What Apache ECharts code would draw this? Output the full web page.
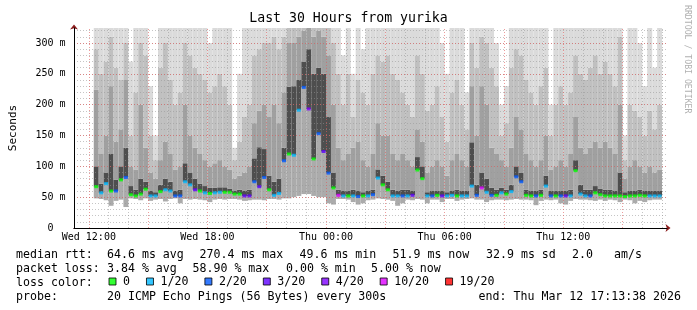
<!DOCTYPE html>
<html><head><meta charset="utf-8">
<script src="https://cdn.jsdelivr.net/npm/echarts@6/dist/echarts.min.js"></script>
<style>html,body{margin:0;padding:0;background:#fff}#c{width:697px;height:310px}</style>
</head><body><div id="c"></div>
<script>
// hours since Wed 00:00; bins of 15 minutes starting Wed 12:15
const START_HOUR = 12.25;
const BIN_HOURS = 0.25;
const X_MIN = 11.25, X_MAX = 41.25;
const Y_MAX = 324.3;

// median rtt per bin (ms)
const MED = [67,57,72,60,60,78,82,54,52,55, 63,52,52,59,62,60,52,52,75,70,
  62,60,57,56,57,58,58,58,55,55, 52,52,75,67,82,62,53,56,109,120,
  118,191,228,193,112,153,124,89,65,53, 52,52,52,51,52,52,54,81,70,62,
  52,52,52,52,53,94,80,52,52,53, 52,52,53,52,52,52,68,53,65,58,
  53,53,57,55,59,83,75,53,52,52, 53,68,52,52,52,52,52,93,55,52,
  52,57,54,52,52,52,52,51,52,52, 53,52,52,52,52];
// loss class per bin (index into LOSS_NAMES)
const LOSS = [0,1,1,0,2,0,2,0,0,0, 0,1,1,0,1,1,2,2,1,1,
  3,0,1,0,1,1,0,0,0,0, 3,3,2,3,2,0,1,1,2,0,
  1,1,2,4,0,2,3,2,0,5, 1,0,1,2,0,1,2,1,0,0,
  1,1,2,1,3,0,0,1,2,0, 3,1,1,0,1,1,1,2,5,1,
  2,0,1,0,1,2,2,0,0,2, 0,1,2,0,2,3,1,0,1,1,
  2,0,0,0,0,0,0,0,0,0, 0,0,1,1,1];
// smoke: lowest ping, and upper levels (dark, mid, light-mid, max)
const LO = [48,47,45,36,44,46,34,48,47,45, 48,44,46,47,43,47,48,40,47,46,
  47,46,45,42,46,47,46,47,47,46, 44,45,46,46,45,47,47,46,48,48,
  50,52,55,55,52,50,50,40,38,47, 47,46,42,38,40,45,46,48,47,46,
  44,36,40,46,45,47,46,40,46,46, 42,47,47,44,46,47,48,46,46,42,
  45,46,46,45,46,47,46,46,45,37, 44,46,45,46,40,38,44,47,46,46,
  45,44,46,44,46,45,42,46,45,40, 44,42,45,46,46];
const H1 = [100,72,90,120,78,100,130,68,62,80, 75,60,58,70,80,75,60,62,105,90,
  80,72,68,65,65,66,66,64,60,62, 60,62,113,131,128,85,75,80,130,229,
  230,240,270,290,250,260,250,180,90,62, 60,60,62,60,58,60,62,95,85,75,
  62,60,62,62,60,115,100,58,60,60, 60,58,60,62,60,60,139,70,90,80,
  65,62,65,62,70,100,90,62,60,60, 62,85,60,60,60,60,62,110,70,62,
  62,68,64,62,62,60,90,58,60,60, 62,60,60,60,60];
const H2 = [224,120,150,230,140,160,240,100,95,200, 130,90,80,110,140,120,95,100,200,150,
  130,120,110,100,105,110,100,95,80,85, 90,100,170,190,200,180,200,170,220,300,
  300,310,320,330,310,320,310,280,200,130, 110,120,130,140,110,100,120,170,150,150,
  120,110,120,110,100,160,140,90,100,110, 100,85,110,120,110,100,230,150,230,200,
  130,120,110,100,130,180,160,120,110,100, 110,150,95,100,110,100,120,180,130,120,
  130,140,130,140,130,120,200,80,100,110, 100,90,100,90,95];
const H3 = [290,250,270,310,260,240,300,150,220,300, 280,150,110,260,300,240,200,220,300,280,
  260,250,240,220,230,250,230,200,110,140, 180,200,280,290,300,300,310,290,310,330,
  330,330,330,330,330,330,330,330,300,250, 200,250,180,240,220,200,250,280,270,280,
  250,240,220,200,180,280,250,190,200,230, 180,140,220,240,200,160,300,260,310,300,
  260,230,150,170,260,290,280,240,220,200, 230,260,150,200,230,200,220,280,250,240,
  260,280,250,270,250,230,310,110,200,190, 180,150,190,160,200];
const H4 = [330,330,330,330,330,330,330,270,330,330, 330,230,150,330,330,330,330,330,330,330,
  330,330,330,300,330,330,330,330,130,250, 330,330,330,330,330,330,330,330,330,330,
  330,330,330,330,330,330,330,330,330,330, 280,330,250,330,290,330,330,330,330,330,
  330,330,330,330,330,330,330,330,330,330, 300,250,330,330,330,220,330,330,330,330,
  330,300,200,230,330,330,330,330,330,330, 330,330,200,330,330,330,330,330,330,330,
  330,330,330,330,330,330,330,150,330,330, 300,230,330,260,330];

const LOSS_NAMES = ['0','1/20','2/20','3/20','4/20','10/20','19/20'];
const LOSS_COLORS = ['#00ff00','#00b8ff','#0059ff','#5e00ff','#7e00ff','#dd00ff','#ff0000'];
const SHADES = ['#ababab','#4e4e4e','#a0a0a0','#c0c0c0','#dbdbdb'];
const X_LABEL_HOURS = [12,18,24,30,36];
const X_LABELS = ['Wed 12:00','Wed 18:00','Thu 00:00','Thu 06:00','Thu 12:00'];

const LINE1 = [['median rtt:',16],['64.6 ms avg',107],['270.4 ms max',199.5],['49.6 ms min',299.5],
  ['51.9 ms now',392.5],['32.9 ms sd',486],['2.0',572],['am/s',614]];
const LINE2 = [['packet loss:',16],['3.84 % avg',107],['58.90 % max',192.5],['0.00 % min',286],['5.00 % now',371]];
const LINE3 = [['loss color:',16]];
const LINE4 = [['probe:',16],['20 ICMP Echo Pings (56 Bytes) every 300s',107]];
const END_TEXT = 'end: Thu Mar 12 17:13:38 2026';

const FONT = '"DejaVu Sans Mono", monospace';
const centers = MED.map((_, i) => START_HOUR + BIN_HOURS * i + BIN_HOURS / 2);
const smokeData = MED.map((m, i) => [centers[i], LO[i], m, H1[i], H2[i], H3[i], H4[i]]);

const gridHours = [];
for (let h = Math.ceil(X_MIN); h < X_MAX; h++) gridHours.push(h);

const chart = echarts.init(document.getElementById('c'), null, {renderer: 'canvas'});

const scatterSeries = LOSS_NAMES.map((name, k) => ({
  name, type: 'scatter', z: 6, symbol: 'rect', symbolSize: [4, 3],
  itemStyle: {color: LOSS_COLORS[k]}, silent: true,
  data: MED.map((m, i) => LOSS[i] === k ? [centers[i], m] : null).filter(d => d)
}));

function textEls(line, y) {
  return line.map(([t, x]) => ({type: 'text', x, y, silent: true,
    style: {text: t, font: '11.6px ' + FONT, fill: '#000', align: 'left', verticalAlign: 'middle'}}));
}

const option = {
  animation: false,
  backgroundColor: '#fff',
  title: {text: 'Last 30 Hours from yurika', left: 'center', top: 12, padding: 0,
    textStyle: {fontFamily: FONT, fontSize: 13.2, fontWeight: 'normal', color: '#000'}},
  grid: {left: 67, right: 30, top: 28, bottom: 82, containLabel: false},
  legend: {data: LOSS_NAMES, left: 108.5, top: 275.5, padding: 0, itemWidth: 7, itemHeight: 7,
    itemGap: 16, icon: 'rect', selectedMode: false,
    itemStyle: {borderColor: '#000', borderWidth: 1},
    textStyle: {fontFamily: FONT, fontSize: 11.6, color: '#000', padding: [0, 0, 0, 2]}},
  xAxis: [{
    type: 'value', min: X_MIN, max: X_MAX, interval: 0.75, z: 4,
    axisLine: {show: true, onZero: false, lineStyle: {color: '#000', width: 1}},
    axisTick: {show: false}, splitLine: {show: false},
    axisLabel: {margin: 4, fontFamily: FONT, fontSize: 10, color: '#000',
      showMinLabel: true, showMaxLabel: true,
      formatter: v => { const i = X_LABEL_HOURS.findIndex(h => Math.abs(h - v) < 1e-6); return i >= 0 ? X_LABELS[i] : ''; }}
  }, {
    type: 'value', min: X_MIN, max: X_MAX, position: 'bottom', offset: 0, z: 3,
    axisLine: {show: true, onZero: false, symbol: ['none', 'arrow'], symbolSize: [6, 5], symbolOffset: [0, 3.5],
      lineStyle: {color: '#8b1c1c', width: 1}},
    axisTick: {show: false}, axisLabel: {show: false}, splitLine: {show: false}
  }],
  yAxis: [{
    type: 'value', min: 0, max: Y_MAX, interval: 50, z: 4,
    name: 'Seconds', nameLocation: 'middle', nameGap: 55, nameRotate: 90,
    nameTextStyle: {fontFamily: FONT, fontSize: 11, color: '#000'},
    axisLine: {show: true, lineStyle: {color: '#000', width: 1}},
    axisTick: {show: false},
    axisLabel: {margin: 8.5, fontFamily: FONT, fontSize: 10, color: '#000', showMaxLabel: false,
      formatter: v => v === 0 ? '0  ' : (v > 300 ? '' : v + ' m')},
    splitLine: {show: true, showMaxLine: false, showMinLine: false,
      lineStyle: {color: 'rgba(225,90,90,0.6)', width: 1, type: [1, 2]}}
  }, {
    type: 'value', min: 0, max: Y_MAX, interval: 10, position: 'left', offset: 0, z: 3,
    axisLine: {show: true, symbol: ['none', 'arrow'], symbolSize: [6, 5], symbolOffset: [0, 3.5],
      lineStyle: {color: '#8b1c1c', width: 1}},
    axisTick: {show: false}, axisLabel: {show: false},
    splitLine: {show: true, showMaxLine: false, showMinLine: false,
      lineStyle: {color: 'rgba(150,150,150,0.55)', width: 1, type: [1, 2]}}
  }],
  series: [{
    type: 'custom', name: 'smoke', z: 2, silent: true,
    encode: {x: 0, y: [1, 2, 3, 4, 5, 6]},
    data: smokeData,
    renderItem: (params, api) => {
      const t = api.value(0);
      const x0 = api.coord([t - BIN_HOURS / 2, 0])[0];
      const x1 = api.coord([t + BIN_HOURS / 2, 0])[0];
      const lv = [1, 2, 3, 4, 5, 6].map(d => Math.min(api.value(d), Y_MAX));
      const children = [];
      for (let k = 0; k < 5; k++) {
        const a = lv[k], b = lv[k + 1];
        if (b <= a) continue;
        const ya = api.coord([t, a])[1], yb = api.coord([t, b])[1];
        children.push({type: 'rect', shape: {x: x0, y: yb, width: x1 - x0, height: ya - yb},
          style: {fill: SHADES[k]}});
      }
      return {type: 'group', children};
    },
    markLine: {
      silent: true, symbol: ['none', 'none'], label: {show: false}, animation: false,
      data: gridHours.map(h => ({xAxis: h, lineStyle: h % 3 === 0
        ? {color: 'rgba(225,90,90,0.6)', width: 1, type: [1, 2]}
        : {color: 'rgba(150,150,150,0.55)', width: 1, type: [1, 2]}}))
    }
  }].concat(scatterSeries),
  graphic: [].concat(
    textEls(LINE1, 254.5), textEls(LINE2, 268.5), textEls(LINE3, 282.5), textEls(LINE4, 296.5),
    [{type: 'text', x: 681, y: 296.5, silent: true,
      style: {text: END_TEXT, font: '11.6px ' + FONT, fill: '#000', align: 'right', verticalAlign: 'middle'}},
     {type: 'text', x: 687.5, y: 5, rotation: -Math.PI / 2, silent: true,
      style: {text: 'RRDTOOL / TOBI OETIKER', font: '8.2px ' + FONT, fill: '#b0b0b0', align: 'left', verticalAlign: 'middle'}}]
  )
};
chart.setOption(option);
</script></body></html>
